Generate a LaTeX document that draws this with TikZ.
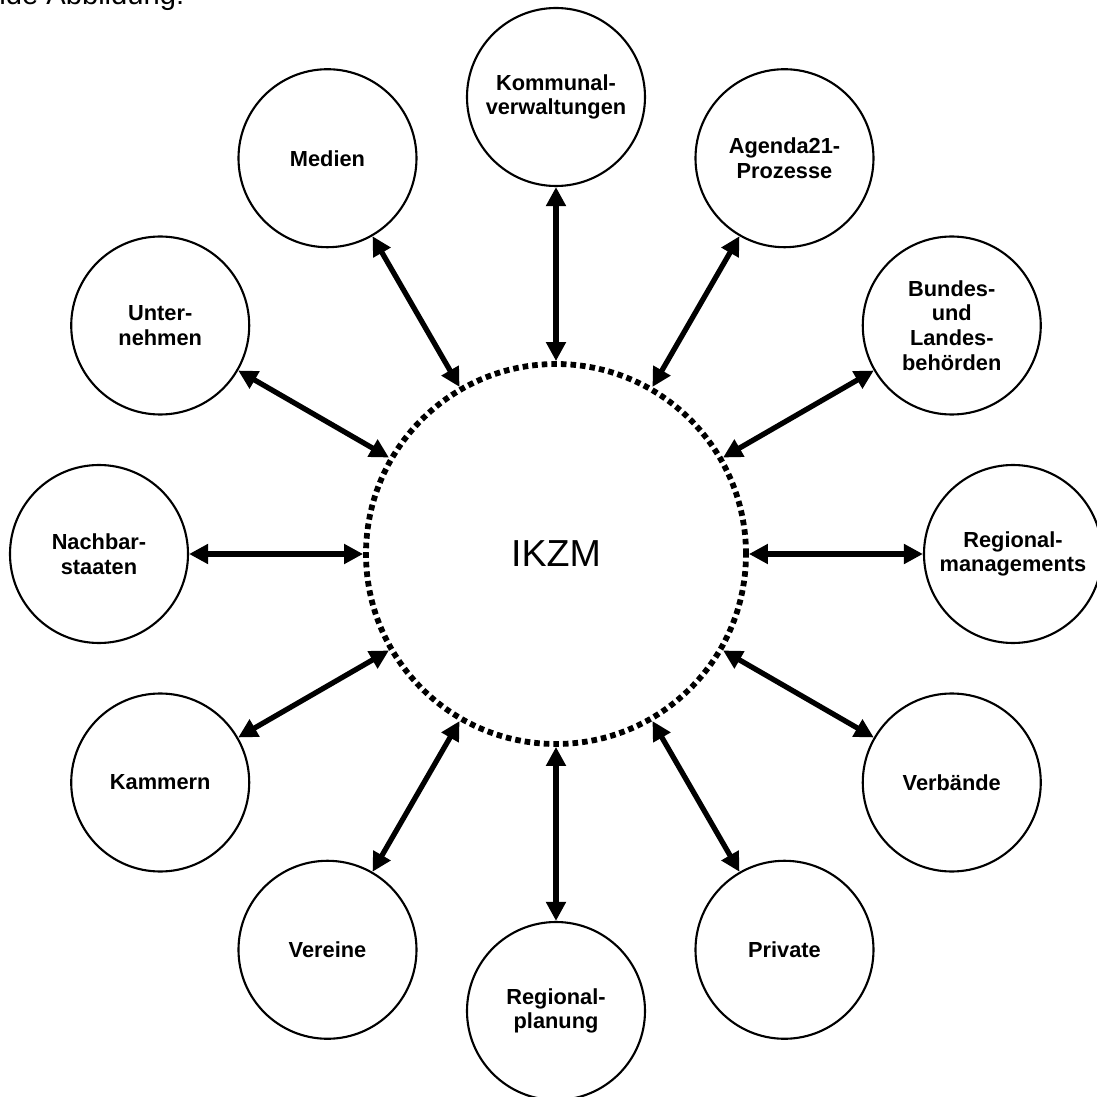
\documentclass[tikz,border=0pt]{standalone}
\usepackage{fontspec}
\setmainfont{Liberation Sans}
\usetikzlibrary{arrows.meta}

\begin{document}
\begin{tikzpicture}[
    partner/.style={circle, draw, line width=0.6pt, minimum size=1.78cm, inner sep=0pt, align=center, font=\fontsize{6.2}{7}\selectfont\bfseries},
    core/.style={circle, draw, line width=0.58mm, dash pattern=on 0.56mm off 0.4mm, minimum size=3.8cm, inner sep=0pt, font=\fontsize{10.7}{12}\selectfont},
    link/.style={{Triangle[length=1.9mm,width=1.9mm]}-{Triangle[length=1.9mm,width=1.9mm]}, line width=1.5pt},
    scale=1.0
]
% page frame
\clip (-5.56,-5.43) rectangle (5.41,5.54);

% line of text above the picture, cut off at the top
\node[anchor=base east, inner sep=0pt, font=\fontsize{8.3}{10}\selectfont] (caption) at (-3.71,5.49) {folgende Abbildung:};

% centre
\node[core] (ikzm) at (0,0) {IKZM};

% partners round the centre
\node[partner] (kommunal) at (90:4.57) {Kommunal-\\verwaltungen};
\node[partner] (agenda) at (60:4.57) {Agenda21-\\Prozesse};
\node[partner] (bund) at (30:4.57) {Bundes-\\und\\Landes-\\behörden};
\node[partner] (regmanag) at (0:4.57) {Regional-\\managements};
\node[partner] (verband) at (-30:4.57) {Verbände};
\node[partner] (privat) at (-60:4.57) {Private};
\node[partner] (regplan) at (-90:4.57) {Regional-\\planung};
\node[partner] (verein) at (-120:4.57) {Vereine};
\node[partner] (kammer) at (-150:4.57) {Kammern};
\node[partner] (nachbar) at (180:4.57) {Nachbar-\\staaten};
\node[partner] (untern) at (150:4.57) {Unter-\\nehmen};
\node[partner] (medien) at (120:4.57) {Medien};

% links
\draw[link] (kommunal) -- (ikzm);
\draw[link] (agenda) -- (ikzm);
\draw[link] (bund) -- (ikzm);
\draw[link] (regmanag) -- (ikzm);
\draw[link] (verband) -- (ikzm);
\draw[link] (privat) -- (ikzm);
\draw[link] (regplan) -- (ikzm);
\draw[link] (verein) -- (ikzm);
\draw[link] (kammer) -- (ikzm);
\draw[link] (nachbar) -- (ikzm);
\draw[link] (untern) -- (ikzm);
\draw[link] (medien) -- (ikzm);
\end{tikzpicture}
\end{document}
